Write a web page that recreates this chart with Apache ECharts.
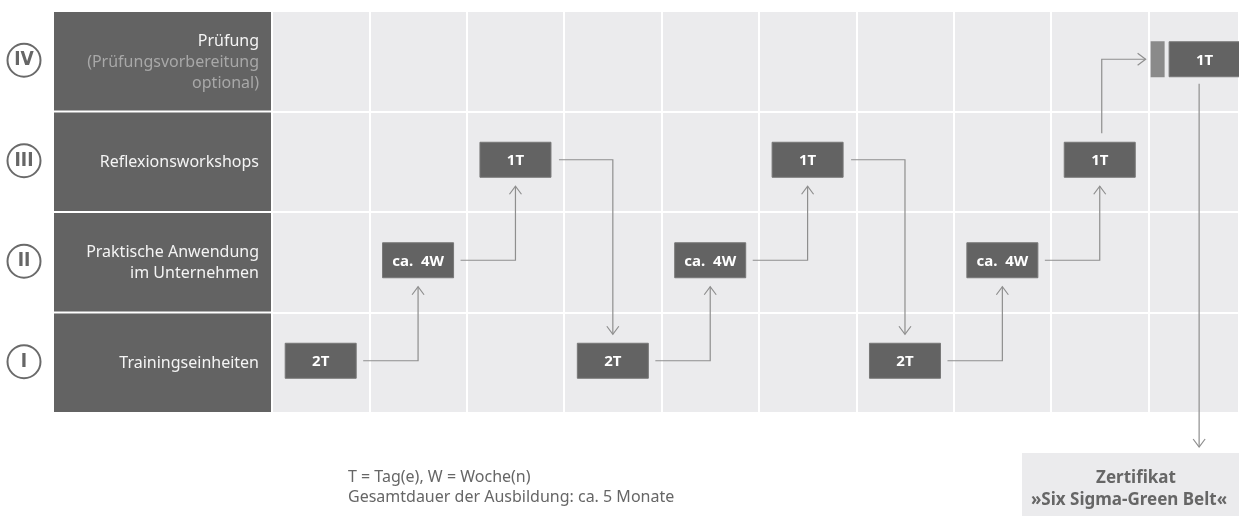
<!DOCTYPE html>
<html>
<head>
<meta charset="utf-8">
<script src="https://cdn.jsdelivr.net/npm/echarts@6/dist/echarts.min.js"></script>
<style>
html,body{margin:0;padding:0;background:#fff;}
#chart{width:1239px;height:516px;}
</style>
</head>
<body>
<div id="chart"></div>
<script>
// ---- data ----
const rowKeys = ['I', 'II', 'III', 'IV'];
const rowTitles = ['Trainingseinheiten', 'Praktische Anwendung\nim Unternehmen', 'Reflexionsworkshops', 'Prüfung'];
const rowNotes = ['', '', '', '(Prüfungsvorbereitung\noptional)'];
const stepCols = [0, 1, 2, 3, 4, 5, 6, 7, 8, 9];
const stepRows = [0, 1, 2, 0, 1, 2, 0, 1, 2, 3];
const stepLabels = ['2T', 'ca.  4W', '1T', '2T', 'ca.  4W', '1T', '2T', 'ca.  4W', '1T', '1T'];
const legendLines = ['T = Tag(e), W = Woche(n)', 'Gesamtdauer der Ausbildung: ca. 5 Monate'];
const certLines = ['Zertifikat', '»Six Sigma-Green Belt«'];

const FONT = '"Noto Sans", "Open Sans", sans-serif';
const DARK = '#636363';
const LINE = '#8e8e8e';

const rowData = rowKeys.map((k, i) => [i, k, rowTitles[i], rowNotes[i]]);
const stepData = stepCols.map((c, i) => [c, stepRows[i], stepLabels[i]]);
const arrowData = [];
for (let i = 0; i < stepCols.length - 1; i++) {
  arrowData.push([stepCols[i], stepRows[i], stepCols[i + 1], stepRows[i + 1]]);
}

const BW = 71, BH = 35, DY = -2;

function arrowHead(x, y, dir) {
  let pts;
  if (dir === 'up') pts = [[x - 6, y + 8], [x, y], [x + 6, y + 8]];
  else if (dir === 'down') pts = [[x - 6, y - 8], [x, y], [x + 6, y - 8]];
  else pts = [[x - 8, y - 6], [x, y], [x - 8, y + 6]];
  return { type: 'polyline', shape: { points: pts }, style: { stroke: LINE, lineWidth: 1.2, fill: null } };
}

const chart = echarts.init(document.getElementById('chart'));
chart.setOption({
  animation: false,
  grid: [
    { left: 54, width: 217, top: 11, bottom: 103, show: false },
    { left: 272, right: 0, top: 11, bottom: 103, show: true, backgroundColor: '#ebebed', borderWidth: 0 }
  ],
  xAxis: [
    { gridIndex: 0, type: 'value', min: 0, max: 1, show: false },
    { gridIndex: 1, type: 'value', min: 0, max: 9.93, interval: 1,
      axisLine: { show: false }, axisTick: { show: false }, axisLabel: { show: false },
      splitLine: { show: true, lineStyle: { color: '#ffffff', width: 2 } } }
  ],
  yAxis: [
    { gridIndex: 0, type: 'value', min: 0, max: 4, show: false },
    { gridIndex: 1, type: 'value', min: 0, max: 4, interval: 1,
      axisLine: { show: false }, axisTick: { show: false }, axisLabel: { show: false },
      splitLine: { show: true, lineStyle: { color: '#ffffff', width: 2 } } }
  ],
  graphic: [
    { type: 'rect', shape: { x: 1022, y: 453, width: 230, height: 70 }, style: { fill: '#ebebed' }, z: 1 },
    { type: 'text', style: { x: 1136, y: 478, text: certLines[0], align: 'center', verticalAlign: 'middle', font: 'bold 17px ' + FONT, fill: '#666666' }, z: 2 },
    { type: 'text', style: { x: 1129, y: 500, text: certLines[1], align: 'center', verticalAlign: 'middle', font: 'bold 17px ' + FONT, fill: '#666666' }, z: 2 },
    { type: 'text', style: { x: 348, y: 477, text: legendLines[0], align: 'left', verticalAlign: 'middle', font: '16px ' + FONT, fill: '#666666' }, z: 2 },
    { type: 'text', style: { x: 348, y: 497, text: legendLines[1], align: 'left', verticalAlign: 'middle', font: '16px ' + FONT, fill: '#666666' }, z: 2 }
  ],
  series: [
    {
      type: 'custom', xAxisIndex: 0, yAxisIndex: 0, data: rowData,
      renderItem: function (params, api) {
        const r = api.value(0);
        const p0 = api.coord([0, r + 1]);
        const p1 = api.coord([1, r]);
        const key = rowKeys[r], title = rowTitles[r], note = rowNotes[r];
        const cy = (p0[1] + p1[1]) / 2;
        const text = note ? '{t|' + title + '}\n{n|' + note.split('\n').join('}\n{n|') + '}' :
          title.split('\n').map(s => '{t|' + s + '}').join('\n');
        return {
          type: 'group',
          children: [
            { type: 'rect', shape: { x: p0[0], y: p0[1] + 1, width: p1[0] - p0[0], height: p1[1] - p0[1] - 2 }, style: { fill: DARK } },
            { type: 'text', style: { x: p1[0] - 12, y: cy + 1, text: text, align: 'right', verticalAlign: 'middle',
              rich: { t: { font: '16px ' + FONT, fill: '#f4f4f4', lineHeight: 21, align: 'right' },
                      n: { font: '16px ' + FONT, fill: '#a8a8a8', lineHeight: 21, align: 'right' } } } },
            { type: 'circle', shape: { cx: 24, cy: cy - 1, r: 16.5 }, style: { fill: '#ffffff', stroke: '#6a6a6a', lineWidth: 2 } },
            { type: 'text', style: { x: 24, y: cy - 1, text: key, align: 'center', verticalAlign: 'middle', font: 'bold 19px "Liberation Sans Narrow", "DejaVu Sans Condensed", sans-serif', fill: '#666666' } }
          ]
        };
      }
    },
    {
      type: 'custom', xAxisIndex: 1, yAxisIndex: 1, data: arrowData, z: 3,
      renderItem: function (params, api) {
        const c0 = api.value(0), r0 = api.value(1), c1 = api.value(2), r1 = api.value(3);
        const a = api.coord([c0 + 0.5, r0 + 0.5]); a[1] += DY;
        const b = api.coord([c1 + 0.5, r1 + 0.5]); b[1] += DY;
        const ch = [];
        if (r1 === 3) {
          const x = a[0] + 2;
          const tipX = b[0] - 46.5 - 5;
          ch.push({ type: 'polyline', shape: { points: [[x, a[1] - BH / 2 - 9], [x, b[1]], [tipX, b[1]]] }, style: { stroke: LINE, lineWidth: 1.2, fill: null } });
          ch.push(arrowHead(tipX, b[1], 'right'));
        } else if (r1 > r0) {
          const tipY = b[1] + BH / 2 + 9;
          ch.push({ type: 'polyline', shape: { points: [[a[0] + BW / 2 + 7, a[1]], [b[0], a[1]], [b[0], tipY]] }, style: { stroke: LINE, lineWidth: 1.2, fill: null } });
          ch.push(arrowHead(b[0], tipY, 'up'));
        } else {
          const tipY = b[1] - BH / 2 - 9;
          ch.push({ type: 'polyline', shape: { points: [[a[0] + BW / 2 + 8, a[1]], [b[0], a[1]], [b[0], tipY]] }, style: { stroke: LINE, lineWidth: 1.2, fill: null } });
          ch.push(arrowHead(b[0], tipY, 'down'));
        }
        return { type: 'group', children: ch };
      }
    },
    {
      type: 'custom', xAxisIndex: 1, yAxisIndex: 1, data: stepData, z: 4,
      renderItem: function (params, api) {
        const c = api.value(0), r = api.value(1);
        const label = stepLabels[params.dataIndex];
        const p = api.coord([c + 0.5, r + 0.5]); p[1] += DY;
        const ch = [];
        let cx = p[0];
        if (r === 3) {
          cx = p[0] + 7.5;
          ch.push({ type: 'rect', shape: { x: p[0] - 46.5, y: p[1] - BH / 2 - 0.5, width: 14, height: BH + 1 }, style: { fill: '#8a8a8a' } });
          const lx = p[0] + 2;
          ch.push({ type: 'line', shape: { x1: lx, y1: p[1] + BH / 2 + 7, x2: lx, y2: 447 }, style: { stroke: LINE, lineWidth: 1.2 } });
          ch.push(arrowHead(lx, 447, 'down'));
        }
        ch.push({ type: 'rect', shape: { x: cx - BW / 2, y: p[1] - BH / 2, width: BW, height: BH }, style: { fill: DARK, stroke: '#777777', lineWidth: 1 } });
        ch.push({ type: 'text', style: { x: cx, y: p[1] + 1, text: label, align: 'center', verticalAlign: 'middle', font: 'bold 15px ' + FONT, fill: '#ffffff' } });
        return { type: 'group', children: ch };
      }
    }
  ]
});
</script>
</body>
</html>
